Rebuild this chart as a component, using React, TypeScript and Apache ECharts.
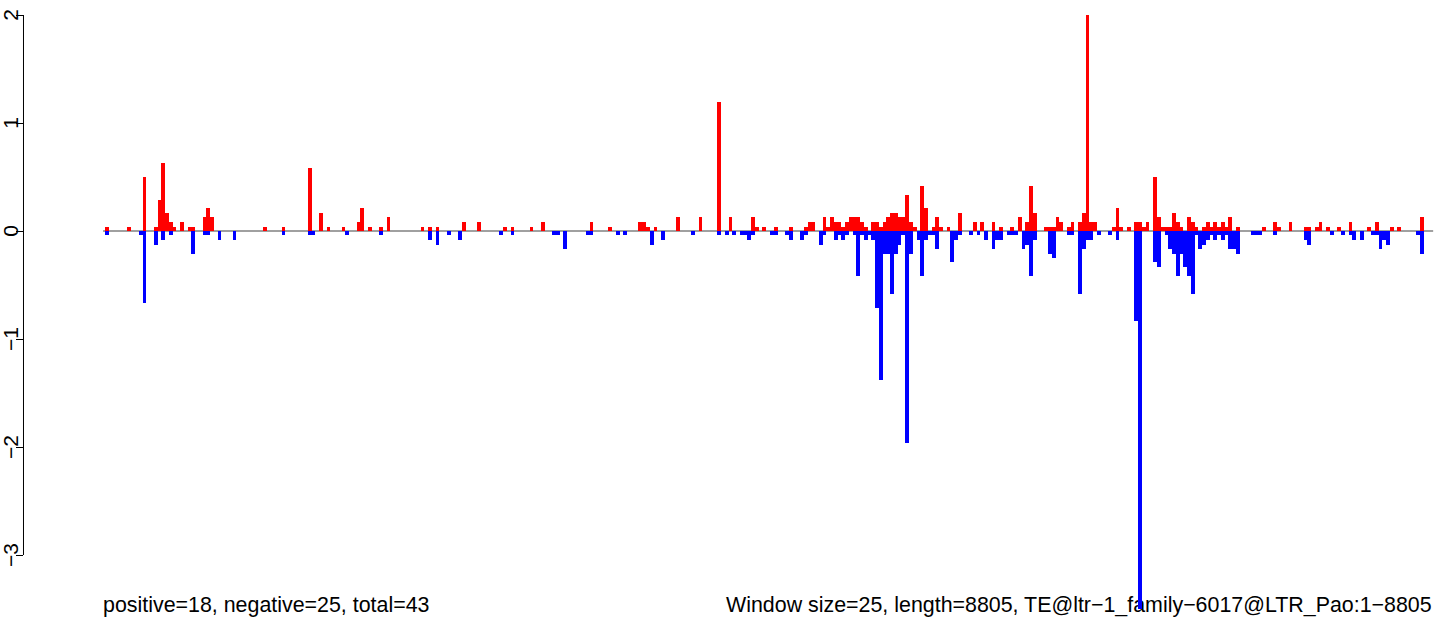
import React, { useEffect, useRef } from "react";
import * as echarts from "echarts";

// window index (25 bp windows) and value
const positive: [number, number][] = [
  [0, 0.04], [6, 0.04], [10, 0.5], [13, 0.04], [14, 0.29], [15, 0.63], [16, 0.17], [17, 0.08], [18, 0.04], [20, 0.08], [22, 0.04], [23, 0.04], [26, 0.13], [27, 0.21], [28, 0.13],
  [42, 0.04], [47, 0.04], [54, 0.58], [57, 0.17], [59, 0.04], [63, 0.04], [67, 0.08], [68, 0.21], [70, 0.04], [73, 0.04], [75, 0.13], [84, 0.04], [86, 0.04],
  [88, 0.04], [95, 0.08], [99, 0.08], [106, 0.04], [108, 0.04], [113, 0.04], [116, 0.08],
  [129, 0.08], [134, 0.04], [142, 0.08], [143, 0.08], [144, 0.04],
  [146, 0.04], [152, 0.13], [158, 0.13], [163, 1.19], [166, 0.13], [172, 0.13], [173, 0.04],
  [175, 0.04], [178, 0.04], [182, 0.04], [186, 0.04], [187, 0.08], [188, 0.08], [191, 0.13], [192, 0.04], [193, 0.13], [194, 0.08], [195, 0.08], [196, 0.04], [197, 0.08], [198, 0.13], [199, 0.13], [200, 0.13], [201, 0.08], [202, 0.04],
  [204, 0.08], [205, 0.08], [206, 0.04], [207, 0.08], [208, 0.13], [209, 0.17], [210, 0.17], [211, 0.13], [212, 0.13], [213, 0.33], [214, 0.08], [215, 0.04], [217, 0.42], [218, 0.21], [220, 0.04], [221, 0.13], [222, 0.04], [224, 0.04], [227, 0.17], [231, 0.08], [233, 0.08],
  [236, 0.08], [238, 0.04], [241, 0.04], [243, 0.13], [245, 0.08], [246, 0.42], [247, 0.17], [250, 0.04], [251, 0.04], [252, 0.04], [253, 0.13], [254, 0.08], [256, 0.04], [257, 0.08], [259, 0.08], [260, 0.17], [261, 2], [262, 0.08],
  [263, 0.08], [268, 0.04], [269, 0.21], [270, 0.04], [272, 0.04], [274, 0.08], [275, 0.08], [276, 0.04], [277, 0.08], [279, 0.5], [280, 0.13], [281, 0.04], [282, 0.04], [283, 0.04], [284, 0.17], [285, 0.08], [286, 0.04], [288, 0.13], [289, 0.08], [290, 0.04],
  [292, 0.04], [293, 0.08], [294, 0.04], [295, 0.08], [296, 0.04], [297, 0.08], [298, 0.04], [299, 0.13], [301, 0.04], [308, 0.04], [311, 0.08], [312, 0.04], [315, 0.08], [319, 0.04], [320, 0.04],
  [322, 0.04], [323, 0.08], [325, 0.04], [328, 0.04], [331, 0.08], [336, 0.04], [338, 0.08], [342, 0.04], [344, 0.04], [350, 0.13],
];

const negative: [number, number][] = [
  [0, -0.04], [9, -0.04], [10, -0.67], [13, -0.13], [15, -0.08], [17, -0.04], [23, -0.21], [26, -0.04], [27, -0.04],
  [30, -0.08], [34, -0.08], [47, -0.04], [54, -0.04], [55, -0.04], [64, -0.04], [73, -0.04], [86, -0.08],
  [88, -0.13], [91, -0.04], [94, -0.08], [105, -0.04], [108, -0.04],
  [119, -0.04], [120, -0.04], [122, -0.17], [128, -0.04], [129, -0.04], [136, -0.04], [138, -0.04], [145, -0.13],
  [148, -0.08], [156, -0.04], [163, -0.04], [165, -0.04], [167, -0.04], [169, -0.04], [170, -0.04], [171, -0.08], [172, -0.04],
  [177, -0.04], [178, -0.04], [181, -0.04], [182, -0.08], [185, -0.08], [186, -0.04], [190, -0.13], [191, -0.04], [194, -0.08], [195, -0.04], [196, -0.08], [197, -0.04], [199, -0.04], [200, -0.42], [201, -0.04], [202, -0.08], [203, -0.04],
  [204, -0.08], [205, -0.71], [206, -1.38], [207, -0.21], [208, -0.21], [209, -0.58], [210, -0.21], [211, -0.13], [212, -0.04], [213, -1.96], [214, -0.21], [216, -0.08], [217, -0.42], [218, -0.08], [219, -0.04], [220, -0.04], [221, -0.17], [225, -0.29], [226, -0.08], [227, -0.04], [230, -0.04], [232, -0.04],
  [234, -0.08], [236, -0.17], [237, -0.08], [238, -0.08], [240, -0.04], [241, -0.04], [242, -0.04], [244, -0.17], [245, -0.13], [246, -0.42], [247, -0.08], [251, -0.21], [252, -0.25], [256, -0.04], [257, -0.04], [259, -0.58], [260, -0.17], [261, -0.08], [262, -0.08],
  [264, -0.04], [267, -0.04], [269, -0.08], [274, -0.83], [275, -3.5], [279, -0.29], [280, -0.33], [282, -0.04], [283, -0.17], [284, -0.21], [285, -0.42], [286, -0.21], [287, -0.33], [288, -0.42], [289, -0.58], [290, -0.04], [291, -0.17],
  [292, -0.13], [293, -0.08], [294, -0.04], [295, -0.08], [296, -0.04], [297, -0.08], [298, -0.04], [299, -0.17], [300, -0.17], [301, -0.21], [305, -0.04], [306, -0.04], [307, -0.04], [311, -0.04], [319, -0.08], [320, -0.13],
  [326, -0.04], [329, -0.04], [331, -0.04], [332, -0.08], [334, -0.08], [337, -0.04], [338, -0.04], [339, -0.17], [340, -0.08], [341, -0.13], [349, -0.04], [350, -0.21],
];

const yTicks = [-3, -2, -1, 0, 1, 2];
const yMin = -3.5;
const yMax = 2;
const windowCount = 353;
const leftNote = "positive=18, negative=25, total=43";
const rightNote = "Window size=25, length=8805, TE@ltr\u22121_family\u22126017@LTR_Pao:1\u22128805";

const W = 1444;
const H = 619;
const gridLeft = 22;
const gridRight = 8;
const gridTop = 15;
const gridBottom = 10;
const firstBarPx = 104;
const barPx = 3.76;
const xMin = (gridLeft - firstBarPx) / barPx;
const xMax = (W - gridRight - firstBarPx) / barPx;
const FONT = "'Liberation Sans', Arial, Helvetica, sans-serif";
const NOTE_SIZE = 21.4;

function barSeries(name: string, data: [number, number][], color: string) {
  return {
    name,
    type: "custom",
    data,
    encode: { x: 0, y: 1 },
    z: 3,
    renderItem: (params: any, api: any) => {
      const i = api.value(0);
      const v = api.value(1);
      const p0 = api.coord([i, 0]);
      const p1 = api.coord([i + 1, v]);
      const x0 = Math.round(p0[0]);
      const x1 = Math.round(p1[0]);
      const y0 = Math.round(p0[1]);
      const y1 = Math.round(p1[1]);
      return {
        type: "rect",
        shape: { x: x0, y: Math.min(y0, y1), width: x1 - x0, height: Math.abs(y1 - y0) },
        style: { fill: color, stroke: null },
      };
    },
  };
}

export default function App() {
  const ref = useRef<HTMLDivElement>(null);
  useEffect(() => {
    if (!ref.current) return;
    const chart = echarts.init(ref.current, null, { renderer: "svg" });
    const axisX = xMin + 0.5 / barPx;
    chart.setOption({
      animation: false,
      backgroundColor: "#ffffff",
      grid: { left: gridLeft, right: gridRight, top: gridTop, bottom: gridBottom, containLabel: false },
      xAxis: {
        type: "value",
        min: xMin,
        max: xMax,
        show: false,
      },
      yAxis: {
        type: "value",
        min: yMin,
        max: yMax,
        position: "left",
        axisLine: { show: false, onZero: false },
        splitLine: { show: false },
        axisTick: {
          show: true,
          length: 7,
          customValues: yTicks,
          lineStyle: { color: "#000", width: 1 },
        },
        axisLabel: {
          show: true,
          customValues: yTicks,
          rotate: 90,
          margin: 2,
          fontSize: 21,
          fontFamily: FONT,
          color: "#000",
          formatter: (v: number) => String(v).replace("-", "\u2212"),
        },
      },
      series: [
        {
          name: "zero",
          type: "line",
          data: [[-0.5, 0], [windowCount + 0.5, 0]],
          symbol: "none",
          clip: false,
          z: 1,
          lineStyle: { color: "#a0a0a0", width: 2 },
          silent: true,
        },
        {
          name: "axis",
          type: "line",
          data: [[axisX, yTicks[0]], [axisX, yTicks[yTicks.length - 1]]],
          symbol: "none",
          clip: false,
          z: 1,
          lineStyle: { color: "#000", width: 1 },
          silent: true,
        },
        barSeries("positive", positive, "#ff0000"),
        barSeries("negative", negative, "#0000ff"),
      ],
      graphic: [
        {
          type: "text",
          left: 103,
          top: 594,
          style: { text: leftNote, font: `${NOTE_SIZE}px ${FONT}`, fill: "#000" },
        },
        {
          type: "text",
          right: 12,
          top: 594,
          style: { text: rightNote, font: `${NOTE_SIZE}px ${FONT}`, fill: "#000" },
        },
      ],
    });
    return () => chart.dispose();
  }, []);
  return (
    <div
      ref={ref}
      style={{ position: "fixed", left: 0, top: 0, width: W, height: H, background: "#fff" }}
    />
  );
}
